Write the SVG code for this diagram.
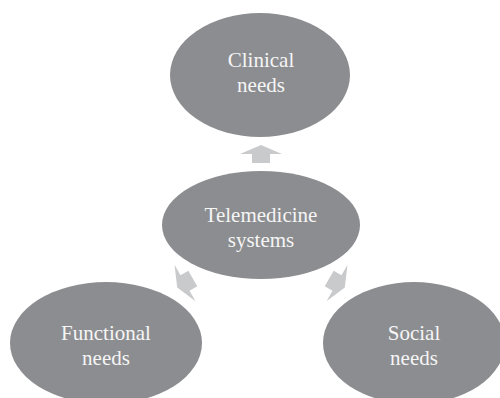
<svg xmlns="http://www.w3.org/2000/svg" width="500" height="398" viewBox="0 0 500 398">
  <defs>
    <style>
      .node { fill: #8c8d90; }
      .label { fill: #f5f5f5; font-family: "Liberation Serif", "DejaVu Serif", serif; font-size: 21px; text-anchor: middle; }
      .arrow { fill: #c9cacc; }
    </style>
    <polygon id="blockArrow" points="0,-9 21,0 9,0 9,9 -9,9 -9,0 -21,0"/>
  </defs>
  <rect width="500" height="398" fill="#ffffff"/>
  <g id="connectors">
    <use href="#blockArrow" class="arrow" transform="translate(261,154)"/>
    <use href="#blockArrow" class="arrow" transform="translate(185,283) rotate(-120)"/>
    <use href="#blockArrow" class="arrow" transform="translate(337,283) rotate(120)"/>
  </g>
  <g id="clinical">
    <ellipse class="node" cx="260" cy="75" rx="90" ry="62"/>
    <text class="label" x="261" y="67">Clinical</text>
    <text class="label" x="261" y="92">needs</text>
  </g>
  <g id="telemedicine">
    <ellipse class="node" cx="261" cy="225" rx="99" ry="54"/>
    <text class="label" x="261" y="222">Telemedicine</text>
    <text class="label" x="261" y="247">systems</text>
  </g>
  <g id="functional">
    <ellipse class="node" cx="106" cy="343" rx="96" ry="61"/>
    <text class="label" x="106" y="340">Functional</text>
    <text class="label" x="106" y="365">needs</text>
  </g>
  <g id="social">
    <ellipse class="node" cx="414" cy="343" rx="91" ry="61"/>
    <text class="label" x="414" y="340">Social</text>
    <text class="label" x="414" y="365">needs</text>
  </g>
</svg>
